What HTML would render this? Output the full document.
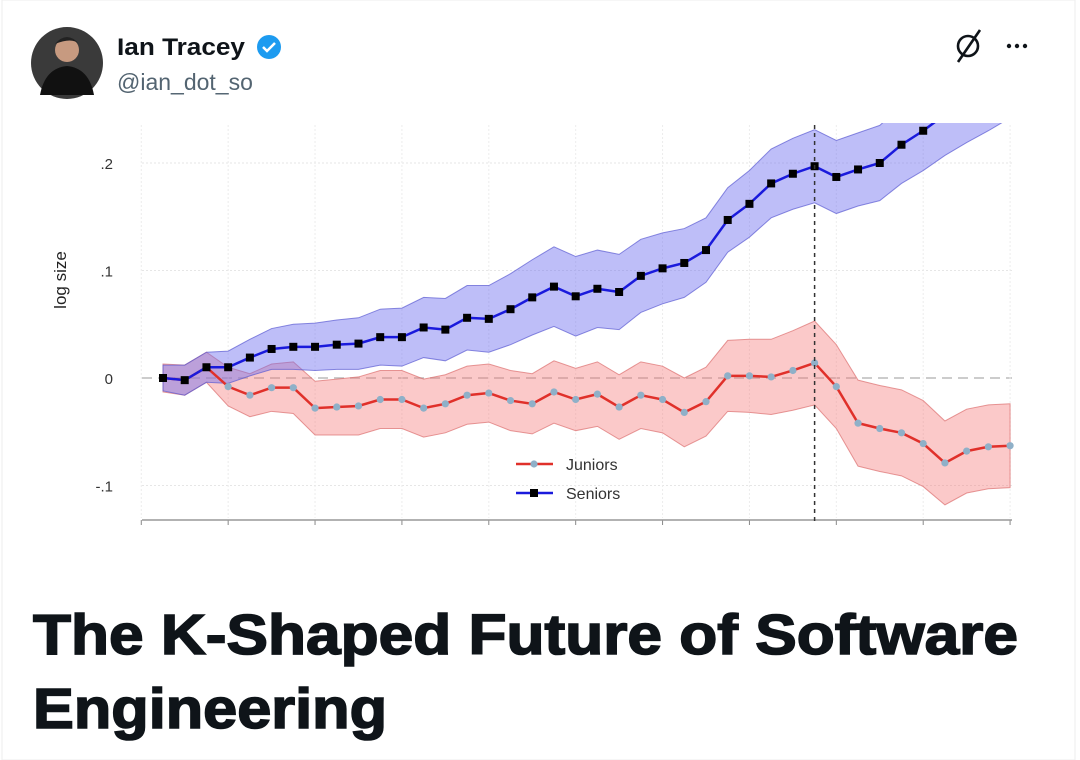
<!DOCTYPE html>
<html><head><meta charset="utf-8"><style>
html,body{margin:0;padding:0;background:#fff;width:1080px;height:760px;overflow:hidden}
svg{display:block}
</style></head><body>
<svg id="root" width="1080" height="760" viewBox="0 0 1080 760" xmlns="http://www.w3.org/2000/svg">
<rect x="2" y="0" width="1073" height="760" fill="#fff" stroke="#eee"/>
<g>
<circle cx="67" cy="63" r="36" fill="#3a3a3a"/>
<circle cx="67" cy="50" r="12" fill="#c79a80"/>
<path d="M40 95 Q45 68 67 66 Q89 68 94 95 Z" fill="#111"/>
<path d="M55 44 Q67 30 79 44 Q72 37 55 44Z" fill="#222"/>
</g>
<text x="117" y="55" font-family="Liberation Sans, sans-serif" font-weight="bold" font-size="24" fill="#0f1419" textLength="128" lengthAdjust="spacingAndGlyphs">Ian Tracey</text>
<g>
<circle cx="269" cy="47" r="12" fill="#1d9bf0"/>
<path d="M263 47 l4 4 l8 -8" stroke="#fff" stroke-width="2.5" fill="none"/>
</g>
<text x="117" y="90" font-family="Liberation Sans, sans-serif" font-size="23" fill="#536471">@ian_dot_so</text>
<g stroke="#0f1419" stroke-width="2.6" fill="none">
<circle cx="968" cy="46" r="10"/><line x1="958" y1="62" x2="980" y2="30"/>
</g>
<g fill="#0f1419">
<circle cx="1009" cy="46" r="2.2"/><circle cx="1017" cy="46" r="2.2"/><circle cx="1025" cy="46" r="2.2"/>
</g>
<g id="chart"></g>
<text x="33" y="654" font-family="Liberation Sans, sans-serif" font-weight="bold" font-size="57" fill="#0f1419" stroke="#0f1419" stroke-width="1.6" textLength="985" lengthAdjust="spacingAndGlyphs">The K-Shaped Future of Software</text>
<text x="33" y="728" font-family="Liberation Sans, sans-serif" font-weight="bold" font-size="57" fill="#0f1419" stroke="#0f1419" stroke-width="1.6" textLength="354" lengthAdjust="spacingAndGlyphs">Engineering</text>
</svg>
<script>
const seniors=[0,-0.002,0.010,0.010,0.019,0.027,0.029,0.029,0.031,0.032,0.038,0.038,0.047,0.045,0.056,0.055,0.064,0.075,0.085,0.076,0.083,0.080,0.095,0.102,0.107,0.119,0.147,0.162,0.181,0.190,0.197,0.187,0.194,0.200,0.217,0.230,0.245,0.258,0.270,0.283];
const seniorsHalf=[0.012,0.014,0.014,0.015,0.017,0.019,0.021,0.022,0.023,0.024,0.026,0.027,0.028,0.029,0.030,0.031,0.033,0.035,0.037,0.037,0.036,0.035,0.034,0.033,0.032,0.030,0.030,0.031,0.032,0.033,0.034,0.034,0.034,0.035,0.036,0.037,0.038,0.039,0.040,0.041];
const juniors=[0,-0.002,0.010,-0.008,-0.016,-0.009,-0.009,-0.028,-0.027,-0.026,-0.020,-0.020,-0.028,-0.024,-0.016,-0.014,-0.021,-0.024,-0.013,-0.020,-0.015,-0.027,-0.016,-0.020,-0.032,-0.022,0.002,0.002,0.001,0.007,0.014,-0.008,-0.042,-0.047,-0.051,-0.061,-0.079,-0.068,-0.064,-0.063];
const juniorsHalf=[0.013,0.014,0.014,0.018,0.020,0.022,0.024,0.025,0.026,0.027,0.027,0.027,0.027,0.027,0.027,0.027,0.028,0.028,0.029,0.029,0.030,0.030,0.031,0.031,0.032,0.032,0.033,0.034,0.035,0.037,0.039,0.039,0.040,0.040,0.040,0.040,0.039,0.039,0.039,0.039];
const yTicks=[0.2,0.1,0,-0.1];
const yTickLabels=[".2",".1","0","-.1"];
const xTickEvery=4;
const NS="http://www.w3.org/2000/svg";
const g=document.getElementById('chart');
const x=i=>163+i*21.72;
const y=v=>378-v*1075;
function el(t,a,p){const e=document.createElementNS(NS,t);for(const k in a)e.setAttribute(k,a[k]);(p||g).appendChild(e);return e;}
const defs=el('defs',{});
const cp=el('clipPath',{id:'plotclip'},defs);
el('rect',{x:140,y:123,width:880,height:400},cp);
yTicks.forEach((v,i)=>{
 const l=el('line',{x1:142,x2:1012,y1:y(v),y2:y(v),stroke:v===0?'#bbb':'#e6e6e6','stroke-width':v===0?1.5:1,'stroke-dasharray':v===0?'10 6':'2 2'});
 
 
 const t=el('text',{x:113,y:y(v)+6,'text-anchor':'end','font-family':'Liberation Sans, sans-serif','font-size':15,fill:'#333'});
 t.textContent=yTickLabels[i];
 
 
});
for(let i=-1;i<=39;i+=xTickEvery){
 const xx=x(i);
 const l=el('line',{x1:xx,x2:xx,y1:125,y2:518,stroke:'#ececec','stroke-dasharray':'2 2'});
 
 
 const tk=el('line',{x1:xx,x2:xx,y1:520,y2:525,stroke:'#888'});
 
 
}
const ax=el('line',{x1:142,x2:1012,y1:520,y2:520,stroke:'#999','stroke-width':1.5});


const yl=el('text',{x:0,y:0,transform:'translate(66,280) rotate(-90)','text-anchor':'middle','font-family':'Liberation Sans, sans-serif','font-size':17,fill:'#222'});
yl.textContent='log size';


const pg=el('g',{'clip-path':'url(#plotclip)'});
function band(vals,half,fill,stroke,name){
 let d='';vals.forEach((v,i)=>d+=(i?'L':'M')+x(i)+' '+y(v+half[i]));
 for(let i=vals.length-1;i>=0;i--)d+='L'+x(i)+' '+y(vals[i]-half[i]);
 const p=el('path',{d:d+'Z',fill:fill,stroke:stroke,'stroke-width':1},pg);
 
 
}
band(juniors,juniorsHalf,'rgba(245,120,120,0.4)','rgba(220,110,110,0.7)','juniors-ci-band');
band(seniors,seniorsHalf,'rgba(110,110,240,0.45)','rgba(90,90,210,0.7)','seniors-ci-band');
const vl=el('line',{x1:x(30),x2:x(30),y1:125,y2:522,stroke:'#333','stroke-width':1.5,'stroke-dasharray':'4 4'});


function series(vals,color,name,marker){
 const p=el('polyline',{points:vals.map((v,i)=>x(i)+','+y(v)).join(' '),fill:'none',stroke:color,'stroke-width':2.5},pg);
 
 
 vals.forEach((v,i)=>{
  let m;
  if(marker==='sq')m=el('rect',{x:x(i)-4,y:y(v)-4,width:8,height:8,fill:'#000'},pg);
  else m=el('circle',{cx:x(i),cy:y(v),r:3.6,fill:'#8fb0c8'},pg);
  
  
 });
}
series(juniors,'#e0302a','juniors','c');
series(seniors,'#1a1adc','seniors','sq');
const lg=el('g',{});


el('line',{x1:516,x2:553,y1:464,y2:464,stroke:'#e0302a','stroke-width':2.5},lg);
el('circle',{cx:534,cy:464,r:3.6,fill:'#8fb0c8'},lg);
const t1=el('text',{x:566,y:470,'font-family':'Liberation Sans, sans-serif','font-size':16,fill:'#333'},lg);t1.textContent='Juniors';


el('line',{x1:516,x2:553,y1:493,y2:493,stroke:'#1a1adc','stroke-width':2.5},lg);
el('rect',{x:530,y:489,width:8,height:8,fill:'#000'},lg);
const t2=el('text',{x:566,y:499,'font-family':'Liberation Sans, sans-serif','font-size':16,fill:'#333'},lg);t2.textContent='Seniors';


</script>
</body></html>
